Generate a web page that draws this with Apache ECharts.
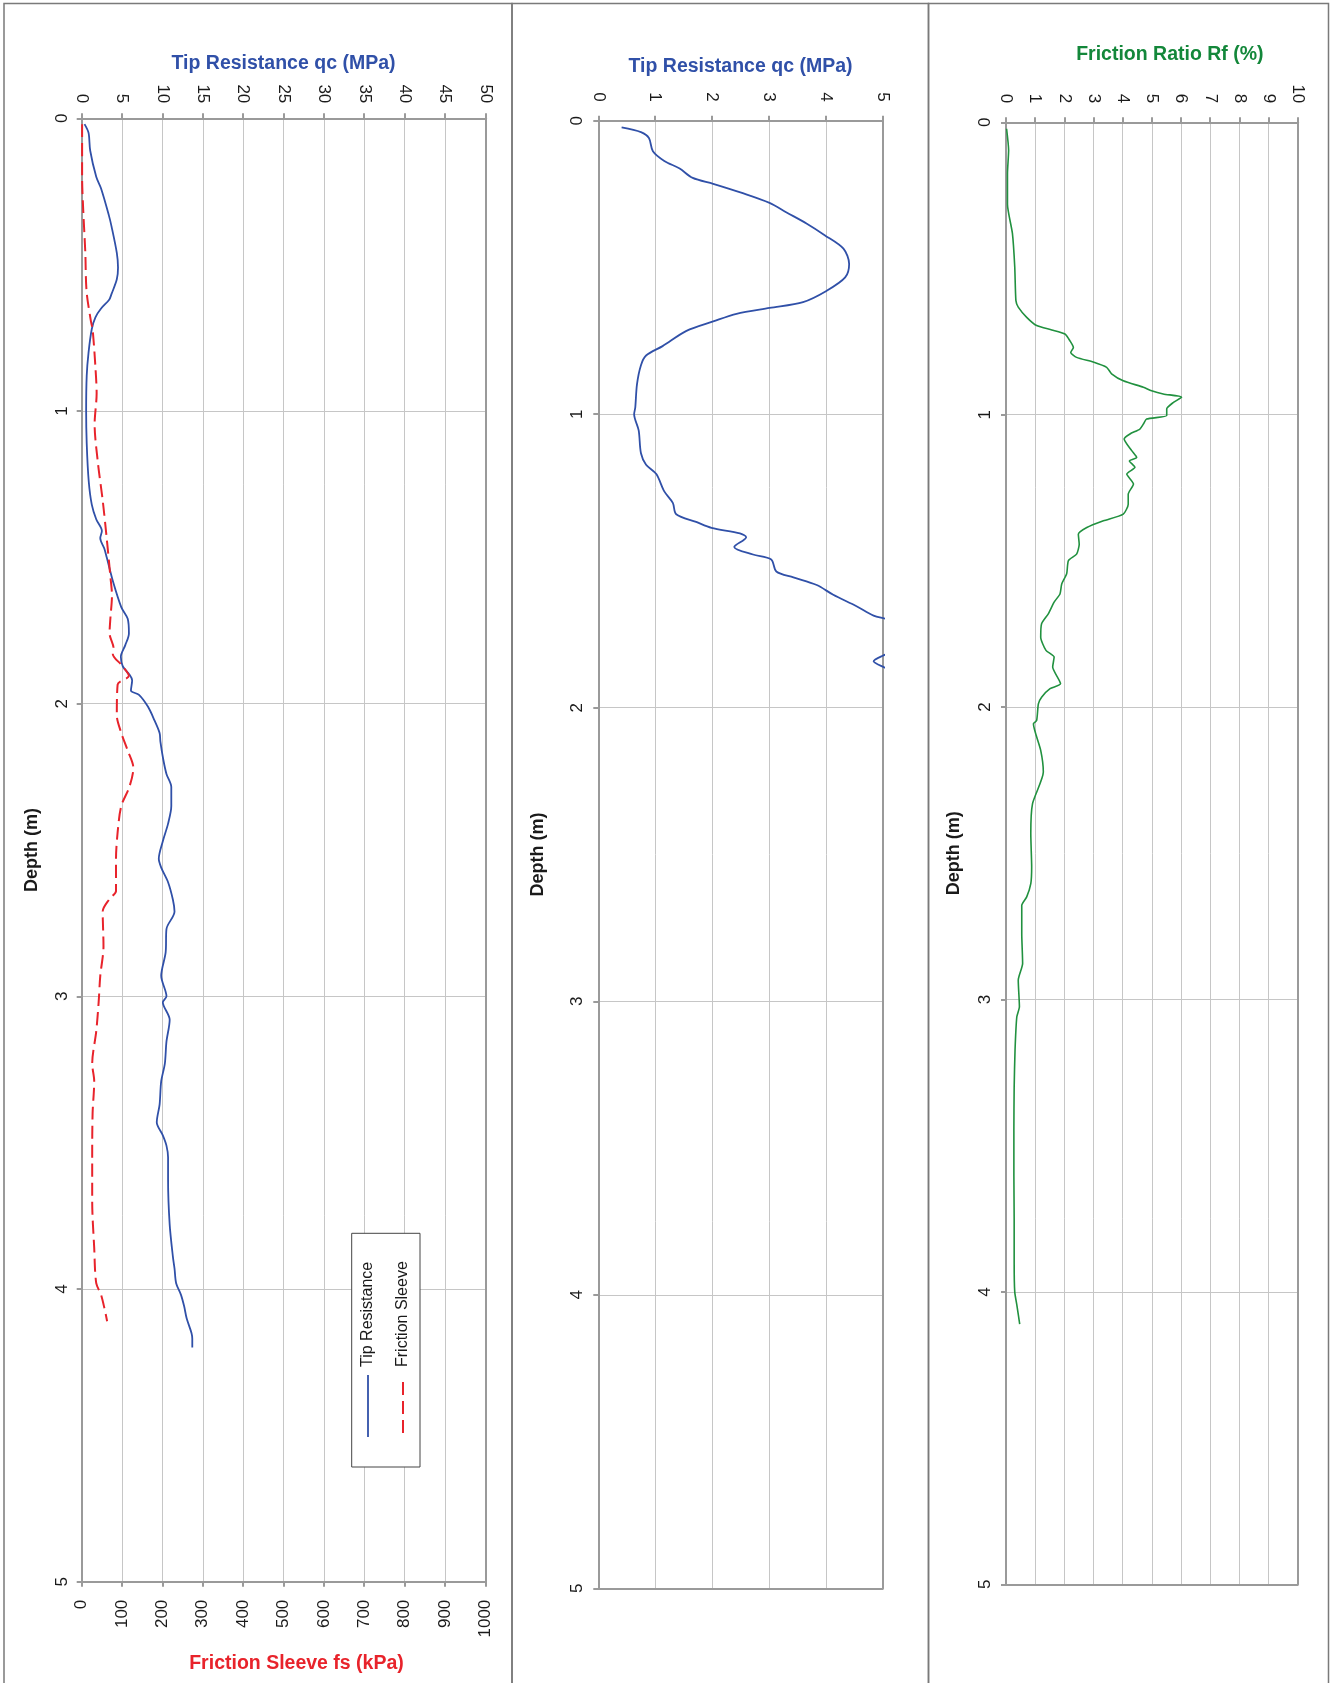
<!DOCTYPE html>
<html>
<head>
<meta charset="utf-8">
<script src="https://cdn.jsdelivr.net/npm/echarts@6/dist/echarts.min.js"></script>
<style>
html,body{margin:0;padding:0;background:#fff;}
#chart{width:1333px;height:1683px;}
</style>
</head>
<body>
<div id="chart"></div>
<script>
// ---------- DATA ----------
// Panel 1: tip resistance (MPa) vs depth (m)
var qcDepth = [0.02,0.05,0.11,0.20,0.24,0.33,0.37,0.46,0.51,0.55,0.60,0.62,0.65,0.68,0.72,0.80,0.88,1.00,1.11,1.24,1.32,1.37,1.41,1.435,1.47,1.50,1.58,1.67,1.71,1.76,1.80,1.84,1.873,1.90,1.92,1.955,1.97,2.01,2.056,2.10,2.13,2.19,2.24,2.285,2.35,2.41,2.47,2.53,2.56,2.61,2.67,2.71,2.77,2.85,2.93,3.00,3.02,3.08,3.155,3.23,3.29,3.37,3.43,3.475,3.51,3.55,3.63,3.78,3.89,3.93,3.98,4.02,4.06,4.10,4.15,4.17,4.20];
var qcValues = [0.35,0.85,1.05,1.8,2.4,3.35,3.7,4.35,4.5,4.35,3.7,3.4,2.4,1.7,1.25,0.85,0.62,0.55,0.62,0.87,1.25,1.8,2.5,2.3,2.8,3.1,3.85,4.9,5.7,5.85,5.4,4.85,5.1,5.9,6.25,6.1,7.1,8.2,9.0,9.65,9.75,10.1,10.5,11.1,11.1,10.7,10.05,9.55,9.85,10.7,11.3,11.5,10.5,10.4,9.85,10.5,10.05,10.9,10.5,10.3,9.85,9.65,9.3,10.05,10.5,10.7,10.7,10.9,11.3,11.5,11.7,12.3,12.7,13.0,13.6,13.7,13.7];
// Panel 1: friction sleeve (kPa) vs depth (m)
var fsDepth = [0.02,0.20,0.32,0.46,0.59,0.695,0.72,0.85,0.94,1.045,1.175,1.305,1.435,1.565,1.63,1.71,1.76,1.81,1.83,1.87,1.905,1.935,2.04,2.10,2.16,2.22,2.285,2.35,2.44,2.53,2.64,2.667,2.71,2.83,2.93,3.02,3.12,3.23,3.29,3.40,3.55,3.70,3.86,3.98,4.02,4.07,4.11];
var fsValues = [1,1,4,9,12,23,27,34,37,32,40,52,62,71,75,71,69,79,77,100,117,89,87,98,114,128,118,98,89,85,85,69,52,54,46,42,36,26,31,27,26,26,31,36,48,57,63];
// Panel 2: tip resistance (MPa), shallow detail
var qc2Depth = [0.023,0.039,0.059,0.104,0.137,0.163,0.195,0.215,0.247,0.28,0.3125,0.35,0.39,0.436,0.488,0.534,0.58,0.618,0.638,0.658,0.684,0.716,0.768,0.80,0.833,0.898,0.977,1.00,1.055,1.133,1.172,1.204,1.263,1.302,1.341,1.367,1.387,1.406,1.419,1.452,1.478,1.495,1.536,1.556,1.582,1.615,1.654,1.686,1.70,1.75,1.80,1.823,1.842,1.86,1.90,1.95];
var qc2Values = [0.41,0.75,0.89,0.96,1.16,1.43,1.66,2.02,2.54,3.01,3.31,3.66,3.98,4.31,4.41,4.34,4.01,3.6,3.01,2.43,2.02,1.55,1.13,0.84,0.75,0.68,0.65,0.63,0.71,0.75,0.84,1.02,1.16,1.31,1.37,1.72,1.99,2.49,2.6,2.39,2.72,3.04,3.13,3.43,3.84,4.13,4.54,4.84,5.1,5.6,5.3,5.0,4.84,5.0,5.5,6.2];
// Panel 3: friction ratio (%)
var rfDepth = [0.022,0.096,0.176,0.28,0.38,0.495,0.61,0.632,0.667,0.695,0.71,0.724,0.747,0.77,0.787,0.804,0.82,0.838,0.86,0.884,0.906,0.918,0.929,0.94,0.958,0.98,1.003,1.015,1.032,1.049,1.066,1.083,1.123,1.146,1.158,1.18,1.203,1.237,1.272,1.306,1.34,1.363,1.386,1.409,1.443,1.477,1.499,1.544,1.579,1.613,1.641,1.681,1.715,1.761,1.806,1.829,1.863,1.92,1.937,1.966,1.989,2.046,2.057,2.148,2.222,2.33,2.433,2.547,2.604,2.649,2.678,2.774,2.877,2.934,3.025,3.06,3.173,3.3,3.45,3.6,3.75,3.9,4.0,4.05,4.11];
var rfValues = [0.02,0.09,0.05,0.05,0.22,0.30,0.34,0.42,0.71,1.05,1.57,2.02,2.19,2.31,2.22,2.42,2.99,3.45,3.62,4.02,4.71,4.99,5.39,6.02,5.74,5.51,5.51,4.82,4.71,4.59,4.25,4.05,4.31,4.48,4.23,4.42,4.14,4.37,4.19,4.19,4.02,3.34,2.77,2.48,2.51,2.42,2.14,2.08,1.91,1.85,1.65,1.45,1.22,1.19,1.37,1.65,1.60,1.87,1.51,1.22,1.11,1.05,0.94,1.19,1.28,0.91,0.85,0.88,0.85,0.71,0.54,0.54,0.57,0.42,0.46,0.37,0.31,0.28,0.27,0.27,0.28,0.28,0.30,0.38,0.47];

var depthTicks = [0,1,2,3,4,5];
var titles = {
  qc: 'Tip Resistance qc (MPa)',
  fs: 'Friction Sleeve fs (kPa)',
  rf: 'Friction Ratio Rf (%)',
  depth: 'Depth (m)'
};
var legendNames = ['Tip Resistance', 'Friction Sleeve'];

// ---------- STYLE ----------
var FONT = '"Liberation Sans", Arial, Helvetica, sans-serif';
var BLUE = '#3050a8', RED = '#e8232b', GREEN = '#21913f', GREEN_T = '#13873a';
var AX = '#9a9a9a', GRID = '#c6c6c6', TXT = '#1a1a1a';

function pairs(ds, vs) { return ds.map(function (d, i) { return [vs[i], d]; }); }
function plain(v) { return String(v); }

function topAxis(grid, max, interval, name, color, gap, margin, pad) {
  return {
    gridIndex: grid, type: 'value', position: 'top', min: 0, max: max, interval: interval,
    name: name, nameLocation: 'middle', nameGap: gap,
    nameTextStyle: { color: color, fontWeight: 'bold', fontSize: 19.5, fontFamily: FONT, padding: pad || 0 },
    axisLine: { show: true, onZero: false, lineStyle: { color: AX, width: 2 } },
    axisTick: { show: true, length: 5, lineStyle: { color: AX, width: 2 } },
    axisLabel: { rotate: 90, margin: margin, fontSize: 17, color: TXT, fontFamily: FONT, formatter: plain },
    splitLine: { show: true, lineStyle: { color: GRID, width: 1 } }
  };
}
function plainBottom(grid, max) {
  return {
    gridIndex: grid, type: 'value', position: 'bottom', min: 0, max: max,
    axisLine: { show: true, onZero: false, lineStyle: { color: AX, width: 2 } },
    axisTick: { show: false }, axisLabel: { show: false }, splitLine: { show: false }
  };
}
function depthAxis(grid, gap, margin) {
  return {
    gridIndex: grid, type: 'value', inverse: true, min: 0, max: 5, interval: 1,
    name: titles.depth, nameLocation: 'middle', nameGap: gap,
    nameTextStyle: { color: TXT, fontWeight: 'bold', fontSize: 18, fontFamily: FONT },
    axisLine: { show: true, onZero: false, lineStyle: { color: AX, width: 2 } },
    axisTick: { show: true, length: 5, lineStyle: { color: AX, width: 2 } },
    axisLabel: { rotate: 90, margin: margin, fontSize: 17, color: TXT, fontFamily: FONT,
      formatter: function (v) { return depthTicks.indexOf(v) >= 0 ? String(v) : ''; } },
    splitLine: { show: true, lineStyle: { color: GRID, width: 1 } }
  };
}
function rightBorder(grid) {
  return {
    gridIndex: grid, type: 'value', inverse: true, min: 0, max: 5, position: 'right',
    axisLine: { show: true, onZero: false, lineStyle: { color: AX, width: 2 } },
    axisTick: { show: false }, axisLabel: { show: false }, splitLine: { show: false }
  };
}

var option = {
  backgroundColor: '#fff',
  animation: false,
  textStyle: { fontFamily: FONT },
  grid: [
    { left: 81.7, top: 118.3, width: 403.6, height: 1463.4 },
    { left: 598.3, top: 120.7, width: 284.4, height: 1467.6 },
    { left: 1006, top: 122.3, width: 291.7, height: 1462 }
  ],
  xAxis: [
    topAxis(0, 50, 5, titles.qc, BLUE, 45, 15),
    {
      gridIndex: 0, type: 'value', position: 'bottom', min: 0, max: 1000, interval: 100,
      name: titles.fs, nameLocation: 'middle', nameGap: 72,
      nameTextStyle: { color: RED, fontWeight: 'bold', fontSize: 19.5, fontFamily: FONT, padding: [0, 0, 0, 26] },
      axisLine: { show: true, onZero: false, lineStyle: { color: AX, width: 2 } },
      axisTick: { show: true, length: 5, lineStyle: { color: AX, width: 2 } },
      axisLabel: { rotate: 90, margin: 18, fontSize: 17, color: TXT, fontFamily: FONT, formatter: plain },
      splitLine: { show: false }
    },
    topAxis(1, 5, 1, titles.qc, BLUE, 44, 19),
    plainBottom(1, 5),
    topAxis(2, 10, 1, titles.rf, GREEN_T, 58, 19, [0, 0, 0, 36]),
    plainBottom(2, 10)
  ],
  yAxis: [
    depthAxis(0, 41, 11),
    rightBorder(0),
    depthAxis(1, 51, 12.5),
    rightBorder(1),
    depthAxis(2, 43, 12.5),
    rightBorder(2)
  ],
  series: [
    { name: legendNames[0], type: 'line', xAxisIndex: 0, yAxisIndex: 0, data: pairs(qcDepth, qcValues),
      showSymbol: false, smooth: 0.3, lineStyle: { color: BLUE, width: 1.8 }, itemStyle: { color: BLUE } },
    { name: legendNames[1], type: 'line', xAxisIndex: 1, yAxisIndex: 0, data: pairs(fsDepth, fsValues),
      showSymbol: false, smooth: 0.3, lineStyle: { color: RED, width: 2, type: [13, 6] }, itemStyle: { color: RED } },
    { name: 'Tip Resistance (detail)', type: 'line', xAxisIndex: 2, yAxisIndex: 2, data: pairs(qc2Depth, qc2Values),
      showSymbol: false, smooth: 0.3, clip: true, lineStyle: { color: BLUE, width: 1.8 } },
    { name: 'Friction Ratio', type: 'line', xAxisIndex: 4, yAxisIndex: 4, data: pairs(rfDepth, rfValues),
      showSymbol: false, smooth: 0.2, lineStyle: { color: GREEN, width: 1.6 } }
  ],
  graphic: [
    { type: 'rect', shape: { x: 4, y: 3.5, width: 508, height: 1700 }, style: { fill: null, stroke: '#7a7a7a', lineWidth: 1.5 }, z: 100, silent: true },
    { type: 'rect', shape: { x: 512, y: 3.5, width: 416.5, height: 1700 }, style: { fill: null, stroke: '#7a7a7a', lineWidth: 1.5 }, z: 100, silent: true },
    { type: 'rect', shape: { x: 928.5, y: 3.5, width: 400, height: 1700 }, style: { fill: null, stroke: '#7a7a7a', lineWidth: 1.5 }, z: 100, silent: true },
    // legend (rotated like the rest of the chart)
    { type: 'rect', shape: { x: 351.7, y: 1233.3, width: 68.3, height: 233.7 }, style: { fill: '#fff', stroke: '#444', lineWidth: 1 }, z: 50, silent: true },
    { type: 'line', shape: { x1: 368, y1: 1375, x2: 368, y2: 1437 }, style: { stroke: BLUE, lineWidth: 1.8 }, z: 51 },
    { type: 'line', shape: { x1: 403, y1: 1382, x2: 403, y2: 1439 }, style: { stroke: RED, lineWidth: 2, lineDash: [13, 6] }, z: 51 },
    { type: 'text', x: 368, y: 1367, rotation: Math.PI / 2, z: 51,
      style: { text: legendNames[0], fill: TXT, font: '16px ' + FONT, textAlign: 'left', textVerticalAlign: 'middle' } },
    { type: 'text', x: 403, y: 1367, rotation: Math.PI / 2, z: 51,
      style: { text: legendNames[1], fill: TXT, font: '16px ' + FONT, textAlign: 'left', textVerticalAlign: 'middle' } }
  ]
};

var chart = echarts.init(document.getElementById('chart'), null, { renderer: 'canvas', width: 1333, height: 1683 });
chart.setOption(option);
</script>
</body>
</html>
